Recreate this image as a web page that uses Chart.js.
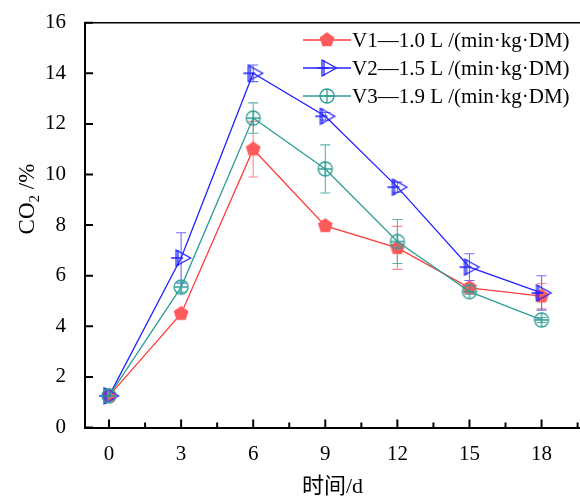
<!DOCTYPE html>
<html>
<head>
<meta charset="utf-8">
<script src="https://cdn.jsdelivr.net/npm/chart.js@4.4.0/dist/chart.umd.min.js"></script>
<style>
  html, body { margin: 0; padding: 0; background: #fff; }
</style>
</head>
<body>
<canvas id="co2Chart" width="580" height="499"></canvas>
<script>
// sampling days and tick labels
const days = [0, 3, 6, 9, 12, 15, 18];
const xTicks = [0, 3, 6, 9, 12, 15, 18];
const yTicks = [0, 2, 4, 6, 8, 10, 12, 14, 16];

// CO2 concentration (%) and error bars for the three aeration rates
const seriesLabels = [
    'V1\u20141.0 L /(min\u00b7kg\u00b7DM)',
    'V2\u20141.5 L /(min\u00b7kg\u00b7DM)',
    'V3\u20141.9 L /(min\u00b7kg\u00b7DM)'
];
const v1 = [1.25, 4.5, 11.0, 7.97, 7.1, 5.52, 5.19];
const v1Err = [0.1, 0.1, 1.1, 0.1, 0.85, 0.15, 0.5];
const v2 = [1.25, 6.7, 14.0, 12.3, 9.5, 6.34, 5.32];
const v2Err = [0.15, 1.0, 0.33, 0.15, 0.2, 0.53, 0.68];
const v3 = [1.25, 5.55, 12.23, 10.22, 7.35, 5.37, 4.25];
const v3Err = [0.1, 0.2, 0.6, 0.95, 0.87, 0.1, 0.1];

const FONT = "'Liberation Serif', 'Times New Roman', 'Noto Sans CJK SC', serif";
const RED = '#ff3b3b';
const BLUE = '#2323ff';
const TEAL = '#2e9e96';

// marker glyphs drawn on small canvases, used as pointStyle
function makeMarker(kind) {
    const c = document.createElement('canvas');
    c.width = 28;
    c.height = 28;
    const g = c.getContext('2d');
    g.translate(14, 14);
    g.lineWidth = 1.3;
    if (kind === 'pentagon') {
        g.beginPath();
        for (let k = 0; k < 5; k++) {
            const a = -Math.PI / 2 + k * 2 * Math.PI / 5;
            const r = 7.8;
            if (k === 0) g.moveTo(r * Math.cos(a), r * Math.sin(a));
            else g.lineTo(r * Math.cos(a), r * Math.sin(a));
        }
        g.closePath();
        g.fillStyle = '#ff5a5c';
        g.fill();
    } else if (kind === 'triangle') {
        g.strokeStyle = BLUE;
        g.beginPath();
        g.moveTo(-5, -8);
        g.lineTo(9.5, 0);
        g.lineTo(-5, 8);
        g.closePath();
        g.stroke();
        g.beginPath();
        g.moveTo(-10, 0);
        g.lineTo(2, 0);
        g.moveTo(-3, -8);
        g.lineTo(-3, 8);
        g.stroke();
    } else {
        g.strokeStyle = TEAL;
        g.beginPath();
        g.arc(0, 0, 7, 0, Math.PI * 2);
        g.stroke();
        g.beginPath();
        g.moveTo(-7, 0);
        g.lineTo(7, 0);
        g.moveTo(0, -7);
        g.lineTo(0, 7);
        g.stroke();
    }
    return c;
}

const markers = [makeMarker('pentagon'), makeMarker('triangle'), makeMarker('circle')];
const lineColors = [RED, BLUE, TEAL];
const errColors = ['#ff8a8a', '#6b6bff', '#5bb3ad'];
const values = [v1, v2, v3];
const errors = [v1Err, v2Err, v3Err];

// error bars, drawn under the markers
const errorBars = {
    id: 'errorBars',
    beforeDatasetsDraw(chart) {
        const ctx = chart.ctx;
        const ys = chart.scales.y;
        ctx.save();
        ctx.lineWidth = 1.1;
        values.forEach((vals, i) => {
            const meta = chart.getDatasetMeta(i);
            ctx.strokeStyle = errColors[i];
            vals.forEach((v, j) => {
                const x = meta.data[j].x;
                const top = ys.getPixelForValue(v + errors[i][j]);
                const bot = ys.getPixelForValue(v - errors[i][j]);
                ctx.beginPath();
                ctx.moveTo(x, top);
                ctx.lineTo(x, bot);
                ctx.moveTo(x - 5, top);
                ctx.lineTo(x + 5, top);
                ctx.moveTo(x - 5, bot);
                ctx.lineTo(x + 5, bot);
                ctx.stroke();
            });
        });
        ctx.restore();
    }
};

// inward ticks, top frame line, y title with subscript and the legend box
const frameAndText = {
    id: 'frameAndText',
    afterDraw(chart) {
        const ctx = chart.ctx;
        const area = chart.chartArea;
        const xs = chart.scales.x;
        const ys = chart.scales.y;
        ctx.save();
        ctx.strokeStyle = '#000';
        ctx.lineWidth = 2;
        ctx.beginPath();
        yTicks.forEach(v => {
            const y = ys.getPixelForValue(v);
            ctx.moveTo(area.left, y);
            ctx.lineTo(area.left + 8, y);
        });
        xTicks.forEach(v => {
            const x = xs.getPixelForValue(v);
            ctx.moveTo(x, area.bottom);
            ctx.lineTo(x, area.bottom - 8);
        });
        xTicks.forEach(v => {
            const x = xs.getPixelForValue(v + 1.5);
            ctx.moveTo(x, area.bottom);
            ctx.lineTo(x, area.bottom - 5);
        });
        ctx.stroke();
        ctx.lineWidth = 1.6;
        ctx.beginPath();
        ctx.moveTo(area.left, area.top);
        ctx.lineTo(area.right, area.top);
        ctx.stroke();

        // y axis title: CO2 /%
        ctx.translate(28, 199);
        ctx.rotate(-Math.PI / 2);
        ctx.fillStyle = '#000';
        ctx.textBaseline = 'middle';
        ctx.textAlign = 'left';
        ctx.font = '23px ' + FONT;
        const w1 = ctx.measureText('CO').width;
        ctx.font = '15px ' + FONT;
        const w2 = ctx.measureText('2').width;
        ctx.font = '23px ' + FONT;
        const w3 = ctx.measureText(' /%').width;
        let x0 = -(w1 + w2 + w3) / 2;
        ctx.fillText('CO', x0, 0);
        ctx.font = '15px ' + FONT;
        ctx.fillText('2', x0 + w1, 7);
        ctx.font = '23px ' + FONT;
        ctx.fillText(' /%', x0 + w1 + w2, 0);
        ctx.setTransform(1, 0, 0, 1, 0, 0);

        // legend
        const rows = [40, 68, 96];
        ctx.font = '21px ' + FONT;
        ctx.textBaseline = 'middle';
        seriesLabels.forEach((label, i) => {
            ctx.strokeStyle = lineColors[i];
            ctx.lineWidth = 1.3;
            ctx.beginPath();
            ctx.moveTo(303, rows[i]);
            ctx.lineTo(351, rows[i]);
            ctx.stroke();
            ctx.drawImage(markers[i], 327 - 14, rows[i] - 14);
            ctx.fillStyle = '#000';
            ctx.fillText(label, 352, rows[i] + 1);
        });
        ctx.restore();
    }
};

const datasets = values.map((vals, i) => ({
    label: seriesLabels[i],
    data: days.map((d, j) => ({ x: d, y: vals[j] })),
    borderColor: lineColors[i],
    backgroundColor: lineColors[i],
    borderWidth: 1.3,
    pointStyle: markers[i],
    pointRadius: 7,
    tension: 0,
    order: 3 - i
}));

new Chart(document.getElementById('co2Chart'), {
    type: 'line',
    data: { datasets: datasets },
    plugins: [errorBars, frameAndText],
    options: {
        responsive: false,
        animation: false,
        layout: {
            autoPadding: false,
            padding: { top: 22.7, right: 0, bottom: 0, left: 0 }
        },
        plugins: {
            legend: { display: false },
            tooltip: { enabled: false }
        },
        scales: {
            x: {
                type: 'linear',
                min: -1,
                max: 19.6,
                afterBuildTicks: (scale) => {
                    scale.ticks = xTicks.map(v => ({ value: v }));
                },
                afterFit: (scale) => {
                    scale.height = 71.5;
                    scale.paddingLeft = 0;
                    scale.paddingRight = 0;
                },
                grid: { display: false, drawTicks: false },
                border: { display: true, color: '#000', width: 2 },
                ticks: {
                    color: '#000',
                    padding: 14,
                    font: { family: FONT, size: 21 }
                },
                title: {
                    display: true,
                    text: '\u65f6\u95f4/d',
                    color: '#000',
                    font: { family: FONT, size: 22, lineHeight: 1 },
                    padding: { top: 0, bottom: 1 }
                }
            },
            y: {
                min: 0,
                max: 16,
                afterBuildTicks: (scale) => {
                    scale.ticks = yTicks.map(v => ({ value: v }));
                },
                afterFit: (scale) => {
                    scale.width = 85;
                    scale.paddingTop = 0;
                    scale.paddingBottom = 0;
                },
                grid: { display: false, drawTicks: false },
                border: { display: true, color: '#000', width: 2 },
                ticks: {
                    color: '#000',
                    padding: 19,
                    font: { family: FONT, size: 21 }
                }
            }
        }
    }
});
</script>
</body>
</html>
